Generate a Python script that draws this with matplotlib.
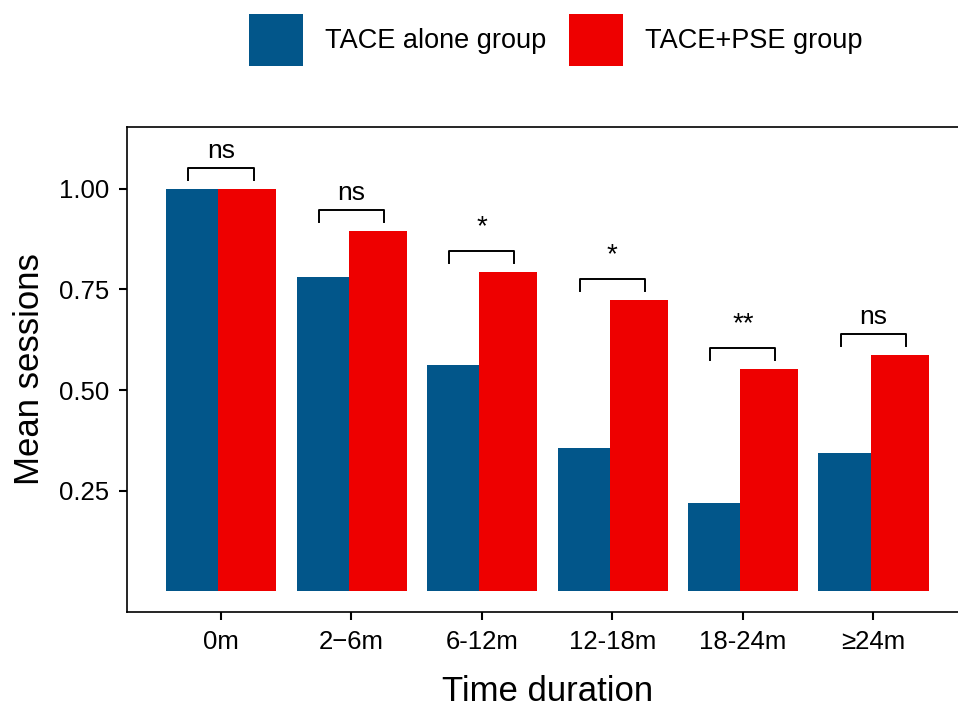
import numpy as np
import matplotlib.pyplot as plt
from matplotlib.patches import Patch

plt.rcParams['font.family'] = ['Liberation Sans', 'DejaVu Sans']

# data
periods = ['0m', '2\u22126m', '6-12m', '12-18m', '18-24m', '\u226524m']
tace_alone = [1.00, 0.781, 0.562, 0.356, 0.219, 0.343]
tace_pse = [1.00, 0.896, 0.794, 0.724, 0.552, 0.587]
signif = ['ns', 'ns', '*', '*', '**', 'ns']

blue = '#02568A'
red = '#EE0000'

fig = plt.figure(figsize=(9.58, 7.09), dpi=100)
ax = fig.add_axes([0.1326, 0.1368, 0.877, 0.6841])

x = np.arange(len(periods))
ax.bar(x - 0.42, tace_alone, width=0.40, align='edge', color=blue, linewidth=0)
ax.bar(x - 0.02, tace_pse, width=0.445, align='edge', color=red, linewidth=0)

# significance brackets
for xi, a, b, s in zip(x, tace_alone, tace_pse, signif):
    top = max(a, b) + 0.052
    ax.plot([xi - 0.25, xi - 0.25, xi + 0.25, xi + 0.25],
            [top - 0.03, top, top, top - 0.03], color='black', lw=1.4)
    if s == 'ns':
        ax.text(xi, top + 0.042, s, ha='center', va='center', fontsize=19)
    else:
        ax.text(xi, top + 0.06, s, ha='center', va='center', fontsize=20)

ax.set_xlim(-0.72, 5.72)
ax.set_ylim(-0.052, 1.154)
ax.set_xticks(x)
ax.set_xticklabels(periods)
ax.set_yticks([0.25, 0.50, 0.75, 1.00])
ax.set_yticklabels(['0.25', '0.50', '0.75', '1.00'])
ax.tick_params(axis='both', direction='out', length=6, width=1.5, labelsize=18.5, pad=7)
for sp in ax.spines.values():
    sp.set_linewidth(1.2)

ax.set_xlabel('Time duration', fontsize=25, labelpad=15)
ax.set_ylabel('Mean sessions', fontsize=25, labelpad=9)

handles = [Patch(facecolor=blue, label='TACE alone group'),
           Patch(facecolor=red, label='TACE+PSE group')]
fig.legend(handles=handles, loc='center', bbox_to_anchor=(0.58, 0.944), ncol=2,
           frameon=False, fontsize=19.5, handlelength=2.0, handleheight=2.57,
           handletextpad=0.8, columnspacing=0.85, borderpad=0)

fig.savefig('out.png', dpi=100)
